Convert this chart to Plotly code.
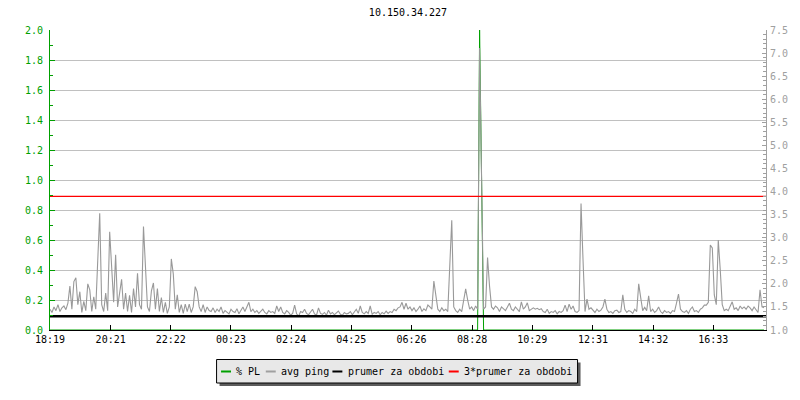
import datetime as dt
import plotly.graph_objects as go

# ---------------- data ----------------
title_text = "10.150.34.227"
start_time = "2024-05-01 18:19"
sample_minutes = 4
span_minutes = 1440

# average ping (ms, right axis), one value per 4 minutes
avg_ping = [
    1.45, 1.38, 1.50, 1.42, 1.55, 1.40, 1.48, 1.52, 1.44, 1.58,
    1.95, 1.45, 2.05, 2.13, 1.55, 1.83, 1.38, 1.62, 1.42, 2.00,
    1.87, 1.40, 1.72, 1.45, 2.50, 3.53, 1.55, 1.40, 1.80, 1.42,
    3.13, 2.28, 1.60, 2.63, 1.50, 1.80, 2.10, 1.45, 1.80, 1.40,
    1.75, 1.38, 1.90, 1.50, 2.23, 1.55, 1.45, 3.24, 2.32, 1.50,
    1.40, 1.85, 2.02, 1.45, 1.90, 1.40, 1.70, 1.38, 1.60, 1.36,
    1.50, 2.54, 2.21, 1.45, 1.76, 1.38, 1.55, 1.36, 1.56, 1.40,
    1.56, 1.38, 1.50, 1.94, 1.83, 1.50, 1.40, 1.55, 1.38, 1.50,
    1.42, 1.40, 1.48, 1.38, 1.45, 1.40, 1.50, 1.36, 1.42, 1.38,
    1.35, 1.45, 1.40, 1.38, 1.46, 1.35, 1.42, 1.50, 1.40, 1.52,
    1.60, 1.40, 1.45, 1.38, 1.42, 1.36, 1.40, 1.45, 1.38, 1.35,
    1.42, 1.38, 1.40, 1.36, 1.52, 1.40, 1.50, 1.38, 1.35, 1.42,
    1.38, 1.32, 1.36, 1.54, 1.35, 1.30, 1.40, 1.38, 1.45, 1.36,
    1.33, 1.38, 1.45, 1.35, 1.32, 1.48, 1.36, 1.34, 1.38, 1.32,
    1.43, 1.35, 1.38, 1.33, 1.36, 1.41, 1.34, 1.32, 1.38, 1.35,
    1.36, 1.40, 1.33, 1.38, 1.45, 1.36, 1.52, 1.38, 1.35, 1.40,
    1.36, 1.52, 1.34, 1.38, 1.36, 1.40, 1.33, 1.38, 1.35, 1.41,
    1.36, 1.40, 1.38, 1.45, 1.42, 1.48, 1.50, 1.60, 1.45, 1.58,
    1.45, 1.50, 1.42, 1.48, 1.40, 1.45, 1.52, 1.40, 1.46, 1.42,
    1.54, 1.50, 1.45, 2.06, 1.72, 1.45, 1.40, 1.48, 1.42, 1.45,
    1.40, 2.36, 3.38, 1.50, 1.42, 1.38, 1.45, 1.40, 1.63, 1.89,
    1.65, 1.45, 1.50, 1.42, 1.52, 1.45, 7.11, 4.25, 1.45, 1.50,
    2.57, 1.95, 1.50, 1.45, 1.52, 1.48, 1.40, 1.50, 1.45, 1.42,
    1.50, 1.58, 1.45, 1.42, 1.50, 1.46, 1.40, 1.61, 1.45, 1.50,
    1.59, 1.42, 1.45, 1.48, 1.45, 1.47, 1.44, 1.46, 1.40, 1.38,
    1.45, 1.36, 1.40, 1.38, 1.42, 1.35, 1.40, 1.38, 1.42, 1.54,
    1.40, 1.56, 1.45, 1.52, 1.40, 1.38, 1.42, 3.74, 2.52, 1.40,
    1.67, 1.45, 1.48, 1.42, 1.38, 1.45, 1.40, 1.43, 1.50, 1.67,
    1.45, 1.38, 1.40, 1.36, 1.42, 1.43, 1.38, 1.40, 1.76, 1.45,
    1.38, 1.42, 1.40, 1.36, 1.45, 1.40, 2.00, 1.70, 1.42, 1.49,
    1.42, 1.74, 1.40, 1.45, 1.38, 1.42, 1.50, 1.40, 1.36, 1.42,
    1.38, 1.40, 1.36, 1.42, 1.40, 1.58, 1.78, 1.45, 1.40, 1.38,
    1.42, 1.36, 1.45, 1.50, 1.40, 1.42, 1.38, 1.45, 1.48, 1.54,
    1.54, 1.60, 2.84, 2.78, 1.76, 1.55, 2.95, 2.30, 1.55, 1.42,
    1.45, 1.42, 1.50, 1.61, 1.45, 1.48, 1.42, 1.52, 1.46, 1.50,
    1.45, 1.52, 1.48, 1.42, 1.50, 1.45, 1.38, 1.87, 1.50, 1.48,
]

# packet loss (%, left axis)
packet_loss = [0.0] * 216 + [2.0, 1.0] + [0.0] * 142

period_mean = 1.299            # "prumer za obdobi"
triple_mean = 3 * period_mean  # "3*prumer za obdobi"

tick_labels = ["18:19", "20:21", "22:22", "00:23", "02:24", "04:25",
               "06:26", "08:28", "10:29", "12:31", "14:32", "16:33"]

legend_labels = ["% PL", "avg ping", "prumer za obdobi", "3*prumer za obdobi"]

# ---------------- styling ----------------
GREEN = "#00a000"
GRAY = "#999999"
AXGRAY = "#a0a0a0"
BLACK = "#000000"
RED = "#ff0000"
FONT = "DejaVu Sans Mono"

t0 = dt.datetime.strptime(start_time, "%Y-%m-%d %H:%M")
times = [t0 + dt.timedelta(minutes=sample_minutes * i) for i in range(len(avg_ping))]
t_end = t0 + dt.timedelta(minutes=span_minutes)

tickvals = []
day = t0.date()
prev = None
for lab in tick_labels:
    hh, mm = map(int, lab.split(":"))
    cand = dt.datetime.combine(day, dt.time(hh, mm))
    if prev is not None and cand < prev:
        day = day + dt.timedelta(days=1)
        cand = dt.datetime.combine(day, dt.time(hh, mm))
    tickvals.append(cand)
    prev = cand

fig = go.Figure()
fig.add_trace(go.Scatter(x=times, y=packet_loss, mode="lines", name=legend_labels[0],
                         line=dict(color=GREEN, width=1), yaxis="y"))
fig.add_trace(go.Scatter(x=times, y=avg_ping, mode="lines", name=legend_labels[1],
                         line=dict(color=GRAY, width=1.1), yaxis="y2"))
fig.add_trace(go.Scatter(x=[t0, t_end], y=[period_mean, period_mean], mode="lines",
                         name=legend_labels[2], line=dict(color=BLACK, width=2.5), yaxis="y2"))
fig.add_trace(go.Scatter(x=[t0, t_end], y=[triple_mean, triple_mean], mode="lines",
                         name=legend_labels[3], line=dict(color=RED, width=1.2), yaxis="y2"))

# page body has an 8px margin: figure pixel = screen pixel - 8
OFF = 8
W, H = 800 - OFF, 400 - OFF
L, R, T, B = 50 - OFF, 770 - OFF, 30 - OFF, 330 - OFF


def px_x(p):
    return (p - OFF - L) / (R - L)


def px_y(p):
    return (B - (p - OFF)) / (B - T)


shapes = []
annotations = []
# legend shadow + box
shapes.append(dict(type="rect", xref="paper", yref="paper",
                   x0=px_x(220.5), x1=px_x(583.5), y0=px_y(362.5), y1=px_y(386),
                   fillcolor="#5c5c5c", line=dict(width=0)))
shapes.append(dict(type="rect", xref="paper", yref="paper",
                   x0=px_x(217.5), x1=px_x(580.5), y0=px_y(359.5), y1=px_y(383),
                   fillcolor="#e8e8e8", line=dict(color=BLACK, width=1)))
item_colors = [GREEN, AXGRAY, BLACK, RED]
line_starts = [222, 267, 334, 451]
text_starts = [236.5, 281, 348.5, 465]
for lab, col, ls, ts in zip(legend_labels, item_colors, line_starts, text_starts):
    shapes.append(dict(type="line", xref="paper", yref="paper",
                       x0=px_x(ls), x1=px_x(ls + 10), y0=px_y(371.5), y1=px_y(371.5),
                       line=dict(color=col, width=2)))
    annotations.append(dict(xref="paper", yref="paper", x=px_x(ts - 1), y=px_y(371),
                            xanchor="left", yanchor="middle", showarrow=False, text=lab,
                            font=dict(family=FONT, size=10, color=BLACK)))

fig.update_layout(
    width=W, height=H,
    margin=dict(l=L, r=W - R, t=T, b=H - B),
    paper_bgcolor="white", plot_bgcolor="white",
    showlegend=False,
    font=dict(family=FONT, size=10, color=BLACK),
    title=dict(text=title_text, x=0.5, xref="paper", xanchor="center",
               y=1 - (12.5 - OFF) / H, yref="container", yanchor="middle",
               font=dict(family=FONT, size=10, color=BLACK)),
    xaxis=dict(type="date", range=[t0, t_end], tickmode="array", tickvals=tickvals,
               ticktext=tick_labels, ticks="inside", ticklen=5, tickcolor=BLACK,
               showline=True, linecolor=BLACK, linewidth=1, showgrid=False,
               zeroline=False, tickfont=dict(family=FONT, size=10, color=BLACK)),
    yaxis=dict(range=[0, 2.0], tick0=0, dtick=0.2, tickformat=".1f",
               ticks="inside", ticklen=5, tickcolor=GREEN, ticklabelstandoff=4,
               showline=True, linecolor=GREEN, linewidth=1,
               showgrid=True, gridcolor="#c0c0c0", gridwidth=1, zeroline=False,
               tickfont=dict(family=FONT, size=10, color=GREEN),
               minor=dict(dtick=0.1, ticks="inside", ticklen=3, tickcolor=GREEN, showgrid=False)),
    yaxis2=dict(range=[1.0, 7.5], tick0=1.0, dtick=0.5, tickformat=".1f",
                overlaying="y", side="right", anchor="x",
                ticks="inside", ticklen=4, tickcolor=AXGRAY, ticklabelstandoff=1,
                showline=True, linecolor=AXGRAY, linewidth=1,
                showgrid=False, zeroline=False,
                tickfont=dict(family=FONT, size=10, color=AXGRAY),
                minor=dict(dtick=0.1, ticks="inside", ticklen=3, tickcolor=AXGRAY, showgrid=False)),
    shapes=shapes,
    annotations=annotations,
)

fig.write_html("out.html")
